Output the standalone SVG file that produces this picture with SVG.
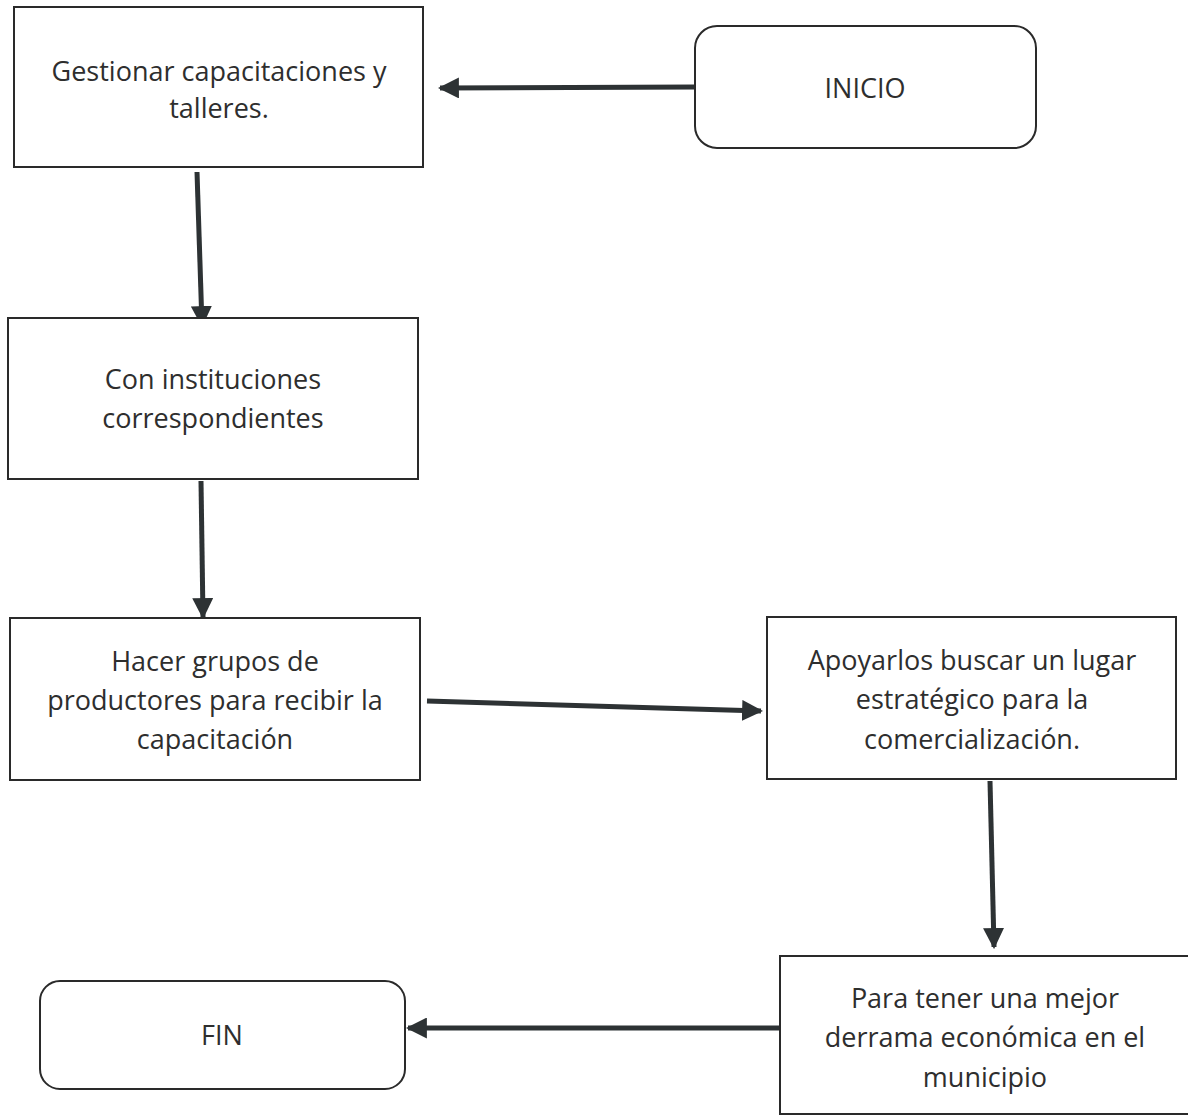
<svg xmlns="http://www.w3.org/2000/svg" width="1188" height="1116" viewBox="0 0 1188 1116">
<defs>
<marker id="ah" viewBox="0 0 10 10" refX="9" refY="5" markerWidth="4.2" markerHeight="4.2" orient="auto" markerUnits="strokeWidth">
<path d="M0,0 L10,5 L0,10 Z" fill="#2d3234"/>
</marker>
<style>
.box{fill:#fff;stroke:#2a2a2a;stroke-width:2}
.t{font-family:"Open Sans","Liberation Sans",sans-serif;font-size:27px;fill:#2e2e2e;text-anchor:middle}
.c{stroke:#2d3234;stroke-width:5;fill:none;marker-end:url(#ah)}
</style>
</defs>
<rect width="1188" height="1116" fill="#fff"/>
<g id="connectors">
<line class="c" x1="695" y1="87" x2="440" y2="88"/>
<line class="c" x1="197" y1="172" x2="202" y2="325"/>
<line class="c" x1="201" y1="481" x2="203" y2="617"/>
<line class="c" x1="427" y1="701" x2="761" y2="711"/>
<line class="c" x1="990" y1="781" x2="994" y2="947"/>
<line class="c" x1="780" y1="1028" x2="408" y2="1028"/>
</g>
<g id="n1"><rect class="box" x="14" y="7" width="409" height="160"/>
<text class="t" x="219" y="81">Gestionar capacitaciones y</text><text class="t" x="219" y="118">talleres.</text></g>
<g id="inicio"><rect class="box" x="695" y="26" width="341" height="122" rx="22"/>
<text class="t" x="865" y="98">INICIO</text></g>
<g id="n2"><rect class="box" x="8" y="318" width="410" height="161"/>
<text class="t" x="213" y="389">Con instituciones</text><text class="t" x="213" y="428">correspondientes</text></g>
<g id="n3"><rect class="box" x="10" y="618" width="410" height="162"/>
<text class="t" x="215" y="671">Hacer grupos de</text><text class="t" x="215" y="710">productores para recibir la</text><text class="t" x="215" y="749">capacitación</text></g>
<g id="n4"><rect class="box" x="767" y="617" width="409" height="162"/>
<text class="t" x="972" y="670">Apoyarlos buscar un lugar</text><text class="t" x="972" y="709">estratégico para la</text><text class="t" x="972" y="749">comercialización.</text></g>
<g id="n5"><rect class="box" x="780" y="956" width="410" height="158"/>
<text class="t" x="985" y="1008">Para tener una mejor</text><text class="t" x="985" y="1047">derrama económica en el</text><text class="t" x="985" y="1087">municipio</text></g>
<g id="fin"><rect class="box" x="40" y="981" width="365" height="108" rx="20"/>
<text class="t" x="222" y="1045">FIN</text></g>
</svg>
